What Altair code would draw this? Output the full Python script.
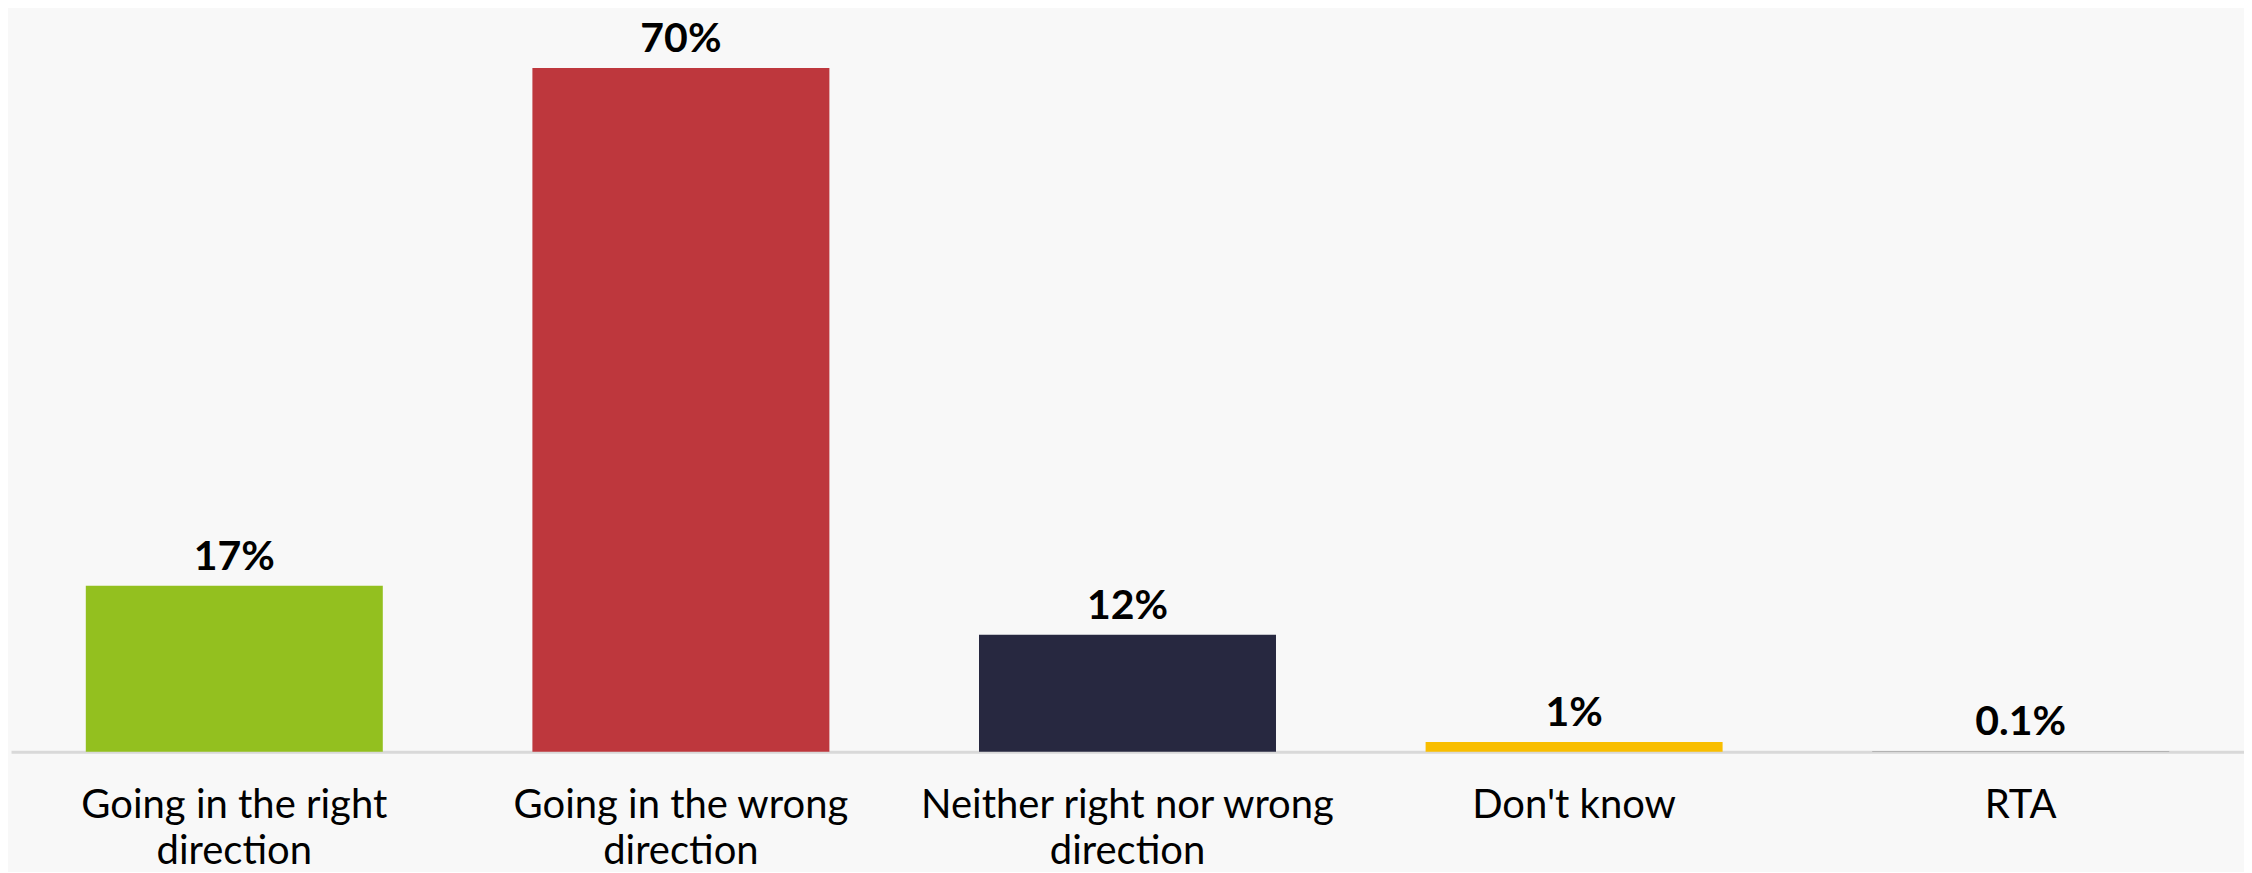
import json
import altair as alt
import pandas as pd

categories = [
    "Going in the right direction",
    "Going in the wrong direction",
    "Neither right nor wrong direction",
    "Don't know",
    "RTA",
]
values = [17, 70, 12, 1, 0.1]
value_labels = ["17%", "70%", "12%", "1%", "0.1%"]
colors = ["#93C01F", "#BE373D", "#272840", "#F9BE00", "#A6A6A6"]
label_lines = [
    ["Going in the right", "direction"],
    ["Going in the wrong", "direction"],
    ["Neither right nor wrong", "direction"],
    ["Don't know"],
    ["RTA"],
]

df = pd.DataFrame({"category": categories, "value": values, "label": value_labels})

lookup = json.dumps(dict(zip(categories, label_lines)))
label_expr = f"{lookup}[datum.label]"

x = alt.X(
    "category:N",
    sort=categories,
    scale=alt.Scale(paddingInner=0.335, paddingOuter=0.1675),
    axis=alt.Axis(
        title=None,
        labelAngle=0,
        labelExpr=label_expr,
        labelFont="Lato",
        labelFontSize=40,
        labelColor="#000000",
        labelLineHeight=46,
        labelPadding=34,
        labelLimit=0,
        ticks=False,
        domainColor="#D9D9D9",
        domainWidth=3,
    ),
)
y = alt.Y("value:Q", scale=alt.Scale(domain=[0, 74.9], nice=False), axis=None)

base = alt.Chart(df).encode(x=x, y=y)

bars = base.mark_bar().encode(
    color=alt.Color("category:N", scale=alt.Scale(domain=categories, range=colors), legend=None)
)

text = base.mark_text(
    font="Lato", fontSize=41, fontWeight="bold", baseline="alphabetic", dy=-16, color="#000000"
).encode(text="label:N")

chart = (
    alt.layer(bars, text)
    .properties(
        width=2234,
        height=732,
        padding={"left": 3, "top": 10, "right": 0, "bottom": 0},
        background="#F8F8F8",
    )
    .configure_view(stroke=None)
)

chart.save("out.html", embed_options={"renderer": "svg", "actions": False})
